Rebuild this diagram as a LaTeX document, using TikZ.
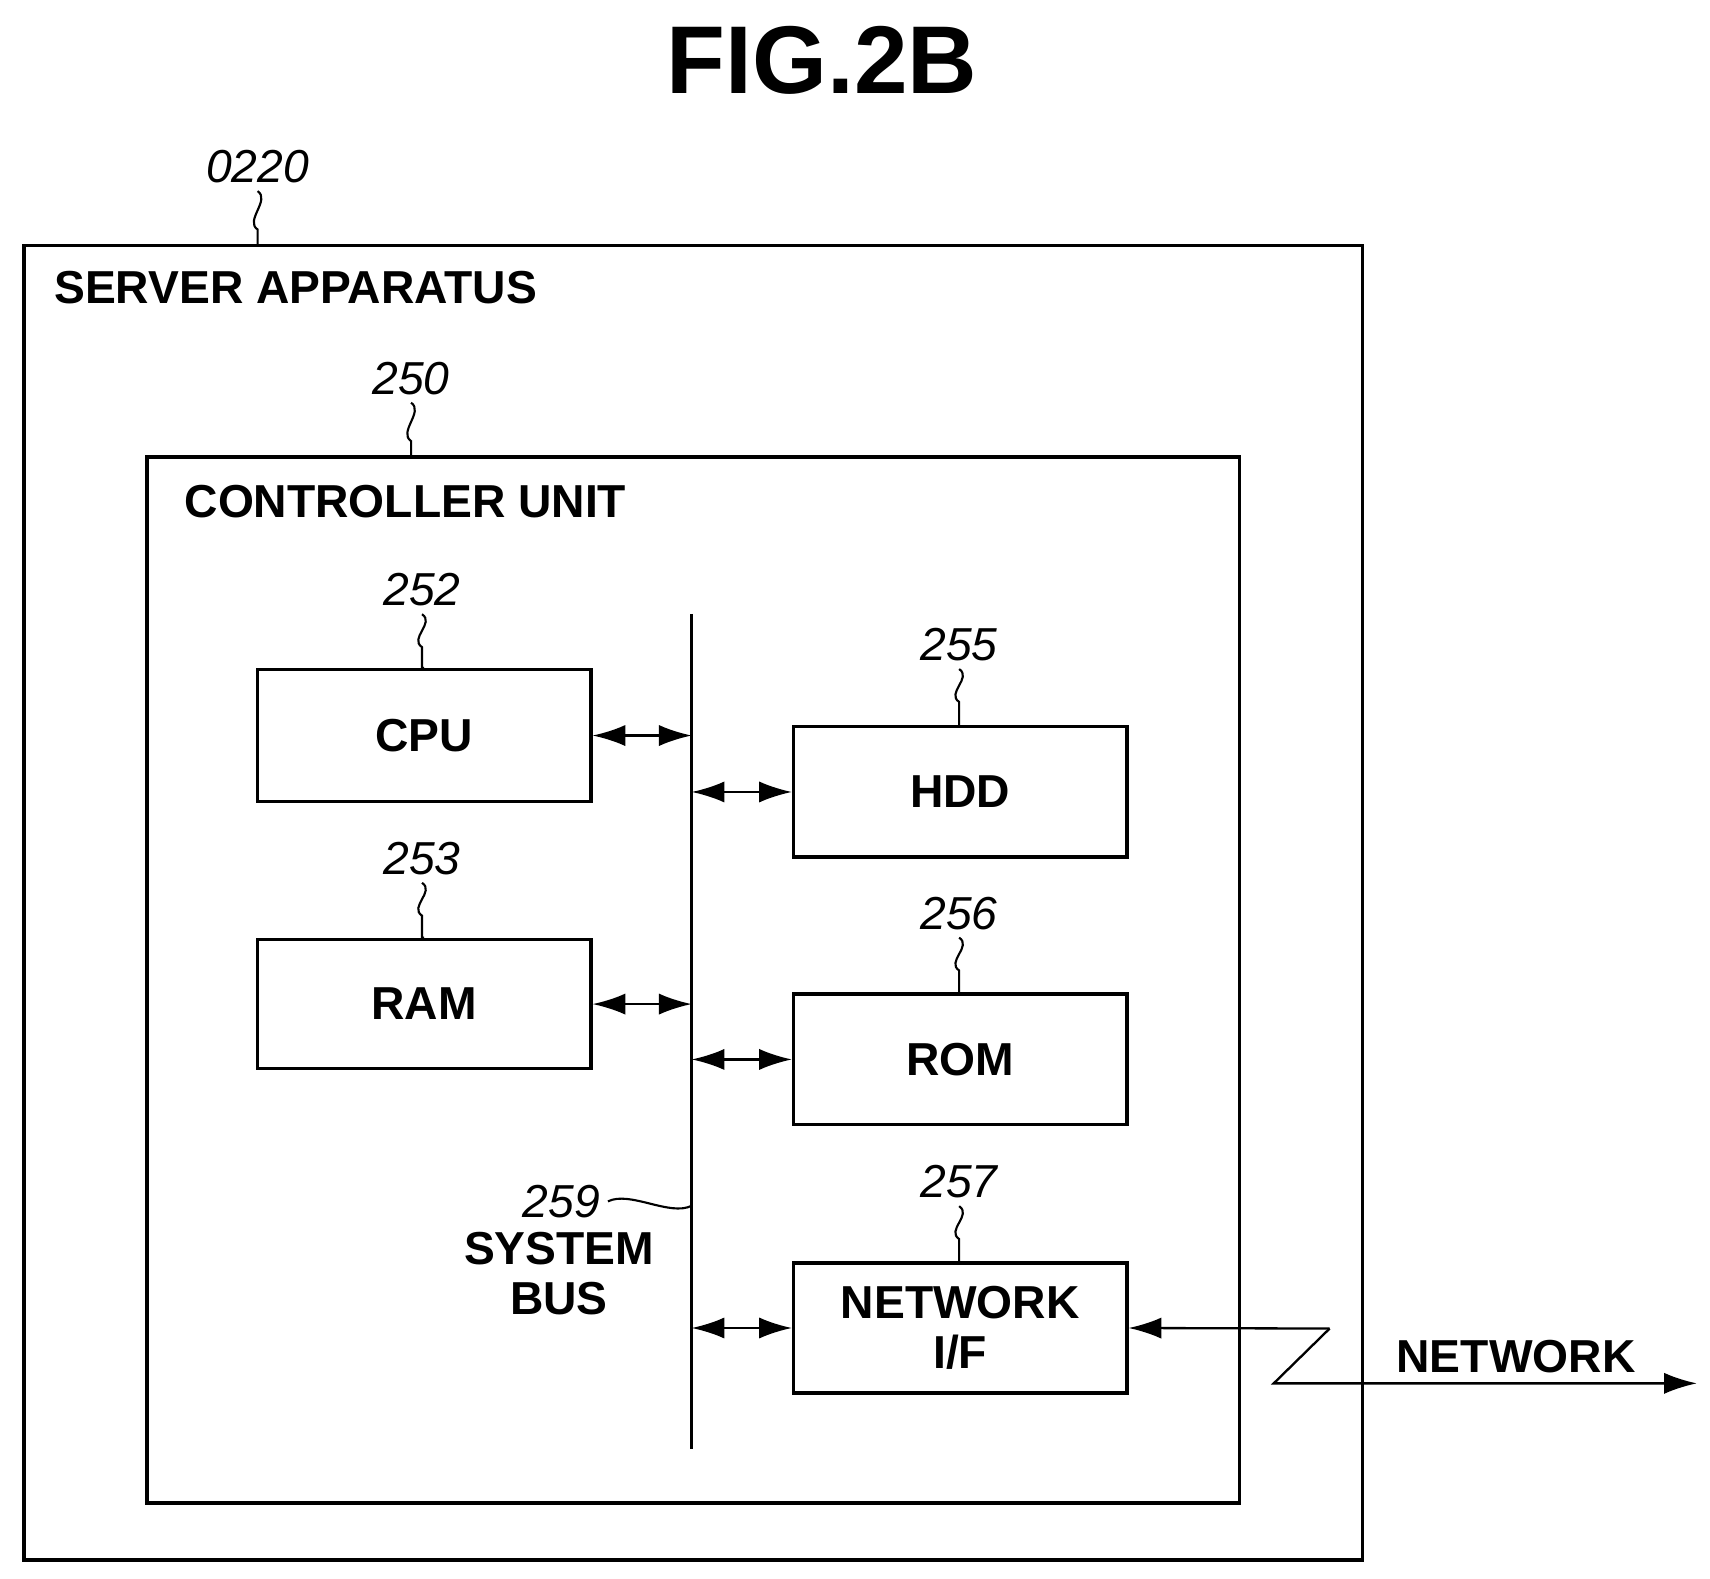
\documentclass[tikz,border=0pt]{standalone}
\usepackage{fontspec}
\setmainfont{Liberation Sans}
\usetikzlibrary{arrows.meta}
\begin{document}
\begin{tikzpicture}
[
 x=0.02cm, y=-0.02cm,
 line width=1.8pt,
 BOX/.style={rectangle, draw=black, inner sep=0pt},
 LBL/.style={font=\fontsize{24}{26}\selectfont\bfseries},
 REF/.style={font=\fontsize{24}{26}\selectfont\itshape},
 BIARROW/.style={{Latex[length=17pt,width=11pt]}-{Latex[length=17pt,width=11pt]}, line width=1.2pt},
 ARROW/.style={-{Latex[length=17pt,width=11pt]}, line width=1.2pt},
 LEAD/.style={line width=1.1pt},
 ]
%
\useasboundingbox (0,0) rectangle (1560,1440);
%
\node [font=\fontsize{50}{54}\selectfont\bfseries] (TITLE) at (750,55) {FIG.2B};
%
\node [BOX, minimum width=1221*0.02cm, minimum height=1199*0.02cm] (SRV) at (632.5,823.5) {};
\node [LBL, anchor=west] (SRVL) at (42,262) {SERVER APPARATUS};
\node [REF] (R0220) at (235,152) {0220};
\draw [LEAD] (R0220.south) .. controls +(12,8) and +(-12,-8) .. ++(0,35) |- (SRV.north -| R0220.south);
%
\node [BOX, minimum width=997*0.02cm, minimum height=954*0.02cm] (CTL) at (632.5,894) {};
\node [LBL, anchor=west] (CTLL) at (161,458) {CONTROLLER UNIT};
\node [REF] (R250) at (375,345) {250};
\draw [LEAD] (R250.south) .. controls +(12,8) and +(-12,-8) .. ++(0,35) |- (CTL.north -| R250.south);
%
\node [BOX, LBL, minimum width=304*0.02cm, minimum height=120*0.02cm] (CPU) at (387,671) {CPU};
\node [BOX, LBL, minimum width=304*0.02cm, minimum height=118*0.02cm] (RAM) at (387,916) {RAM};
\node [BOX, LBL, minimum width=304*0.02cm, minimum height=119*0.02cm] (HDD) at (876,722.5) {HDD};
\node [BOX, LBL, minimum width=304*0.02cm, minimum height=119*0.02cm] (ROM) at (876,966.5) {ROM};
\node [BOX, LBL, minimum width=304*0.02cm, minimum height=119*0.02cm, align=center] (NIF) at (876,1211.5)
  {\fontsize{24}{22}\selectfont NETWORK\\I/F};
%
\node [REF] (R252) at (385,538) {252};
\node [REF] (R253) at (385,783) {253};
\node [REF] (R255) at (875,588) {255};
\node [REF] (R256) at (875,833) {256};
\node [REF] (R257) at (875,1078) {257};
\foreach \r/\b in {R252/CPU, R253/RAM, R255/HDD, R256/ROM, R257/NIF}
   { \draw [LEAD] (\r.south) .. controls +(12,8) and +(-12,-8) .. ++(0,30) |- (\b.north); }
%
\coordinate (BT) at (631,560);
\coordinate (BB) at (631,1322);
\draw (BT) -- (BB);
\node [REF] (R259) at (512,1096) {259};
\draw [LEAD] (R259.east) .. controls +(20,-10) and +(-20,10) .. (631,1100);
\node [LBL, align=center] (BUSL) at (510,1162) {\fontsize{24}{22}\selectfont SYSTEM\\BUS};
%
\draw [BIARROW] (CPU.east) -- (CPU.east -| BT);
\draw [BIARROW] (RAM.east) -- (RAM.east -| BT);
\draw [BIARROW] (HDD.west -| BT) -- (HDD.west);
\draw [BIARROW] (ROM.west -| BT) -- (ROM.west);
\draw [BIARROW] (NIF.west -| BT) -- (NIF.west);
%
\coordinate (ZT) at (1213,1212);
\coordinate (ZB) at (1162,1262);
\coordinate (NE) at (1548,1262);
\draw [ARROW] (ZT) -- (NIF.east);
\draw [ARROW] (ZT) -- (ZB) -- (NE);
\node [LBL] (NETL) at (1383,1238) {NETWORK};
%
\end{tikzpicture}
\end{document}
